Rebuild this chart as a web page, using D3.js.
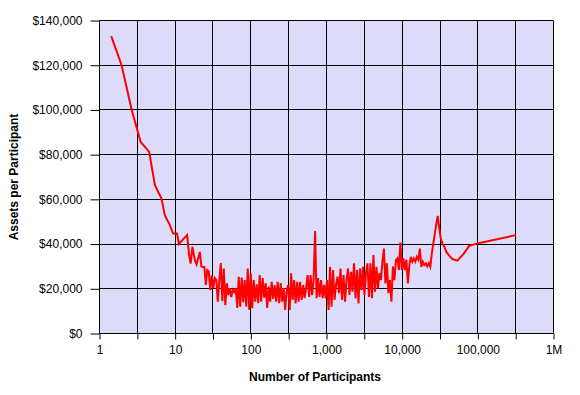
<html>
<head>
  <meta charset='utf-8' />
  <style>
    body { margin: 0; padding: 0; background: white; }
    text { font-family: 'Liberation Sans', Arial, sans-serif; }
  </style>
</head>

<body>
  <svg width='580' height='395'></svg>
</body>

<script src="https://d3js.org/d3.v7.min.js"></script>

<script>
///////////////////
/// Data
///////////////////

  // [participants, assets per participant]
  declineSeries = [
    [1.43, 133000], [1.96, 120000], [2.66, 100100], [3.5, 85700], [4.54, 81200],
    [5.4, 66300], [6.6, 60400], [7.3, 52900], [8.5, 48500], [9.4, 44700],
    [10.6, 44700], [11.2, 40000], [12.1, 41300], [14.4, 44000], [15.3, 35000],
    [16, 31300], [16.9, 38800], [18.2, 32800], [19.2, 30900], [21.2, 36500]
  ];

  troughSeries = [
    [22.2, 30000], [23.2, 29800], [24.3, 29800], [25.4, 21700], [26.6, 28400],
    [27.8, 27800], [29.1, 19400], [30.5, 26000], [31.9, 20300], [33.4, 24800],
    [35.0, 23900], [36.6, 14200], [38.3, 23900], [40.1, 31500], [42.0, 14500],
    [43.9, 29100], [46.0, 12700], [48.1, 22500], [50.3, 17200], [52.7, 20300],
    [55.1, 16300], [57.7, 19600], [60.4, 18600], [63.2, 20300], [66.2, 11400],
    [69.2, 25400], [72.5, 12000], [75.8, 25000], [79.4, 14000], [83.1, 23900],
    [87.0, 12000], [91.0, 29100], [95.3, 10500], [99.7, 26900], [104.3, 11300],
    [109.2, 23900], [114.3, 14200], [119.6, 22000], [125.2, 13600], [131.0, 26100],
    [137.1, 14200], [143.5, 24800], [150.2, 16000], [157.2, 22500], [164.5, 11400],
    [172.2, 21000], [180.2, 14200], [188.6, 23100], [197.4, 15500], [206.6, 21500],
    [216.2, 14200], [226.3, 23100], [236.8, 13600], [247.9, 22500], [259.4, 14200],
    [271.5, 20300], [284.2, 10500], [297.4, 19000], [311.3, 21700], [325.8, 10500],
    [341.0, 26900], [356.9, 15000], [373.5, 23900], [390.9, 13400], [409.1, 23100],
    [428.2, 14200], [448.1, 23100], [469.0, 15000], [490.9, 21700], [513.7, 15800],
    [537.7, 20500], [562.7, 26100], [589.0, 16400], [616.4, 26100], [645.1, 17200],
    [675.2, 23900], [706.6, 45800], [739.6, 15800], [774.0, 24800], [810.1, 16400],
    [847.8, 23900], [887.3, 15800], [928.7, 21700], [972, 15800], [1017, 23900],
    [1065, 10500], [1114, 29800], [1166, 12000], [1221, 28400], [1277, 15000],
    [1337, 22000], [1399, 25400], [1464, 18000], [1533, 29100], [1604, 15000],
    [1679, 26100], [1757, 14200], [1839, 24000], [1925, 29100], [2014, 17200],
    [2108, 27600], [2206, 18700], [2309, 31400], [2417, 15700], [2529, 28400],
    [2647, 13400], [2770, 29100], [2899, 19400], [3035, 29800], [3176, 17200],
    [3324, 27000], [3479, 31400], [3641, 16400], [3810, 31400], [3988, 15800],
    [4174, 35100], [4368, 18700], [4572, 29800], [4785, 20200], [5008, 27000],
    [5241, 23900], [5485, 32100], [5741, 38000], [6008, 22400], [6288, 31400],
    [6581, 18000], [6888, 23900], [7208, 14200], [7544, 30000], [7896, 23900],
    [8264, 32800], [8649, 33600], [9051, 28400], [9473, 40700], [9914, 28400]
  ];

  tailSeries = [
    [10376, 33600], [10860, 28400], [11365, 33000], [11895, 22400], [12449, 30600],
    [13029, 34300], [13636, 32100], [14271, 33600], [14936, 32100], [15632, 34300],
    [16360, 33000], [17122, 38000], [17920, 29800], [18755, 32100], [19629, 30600],
    [20543, 31400], [21500, 30000], [22502, 31400], [23550, 29800], [24648, 35800],
    [25796, 40300], [26998, 44700], [28256, 49000], [29572, 52600], [30950, 47000],
    [32392, 42500], [33901, 40300], [36100, 38800], [38400, 36500], [42100, 34700],
    [46100, 33300], [53700, 32600], [64400, 35500], [77100, 39200], [98200, 40300],
    [319000, 44000]
  ];

  xTickValues = [1, 3.162, 10, 31.62, 100, 316.2, 1000, 3162, 10000, 31623, 100000, 316228, 1000000];
  xTickLabels = {1: '1', 10: '10', 100: '100', 1000: '1,000', 10000: '10,000', 100000: '100,000', 1000000: '1M'};
  yTickValues = [0, 20000, 40000, 60000, 80000, 100000, 120000, 140000];

  allPoints = declineSeries.concat(troughSeries, tailSeries);

///////////////////
/// Scales
///////////////////

  svg = d3.select('svg');

  scaleX = d3.scaleLog()
    .domain([1, 1000000])
    .range([99.5, 553.5]);

  scaleY = d3.scaleLinear()
    .domain([0, 140000])
    .range([333.5, 20.5]);

///////////////////
/// Plot area + grid
///////////////////

  svg.append('rect')
    .attr('x', scaleX(1))
    .attr('y', scaleY(140000))
    .attr('width', scaleX(1000000) - scaleX(1))
    .attr('height', scaleY(0) - scaleY(140000))
    .style('fill', '#dcdcfa');

  grid = svg.append('g').attr('id', 'grid');

  grid.selectAll('.vgrid')
    .data(xTickValues)
    .enter().append('line')
    .attr('class', 'vgrid')
    .attr('x1', d => Math.round(scaleX(d) - 0.5) + 0.5)
    .attr('x2', d => Math.round(scaleX(d) - 0.5) + 0.5)
    .attr('y1', scaleY(140000))
    .attr('y2', scaleY(0))
    .style('stroke', 'black');

  grid.selectAll('.hgrid')
    .data(yTickValues)
    .enter().append('line')
    .attr('class', 'hgrid')
    .attr('x1', scaleX(1))
    .attr('x2', scaleX(1000000))
    .attr('y1', d => Math.round(scaleY(d) - 0.5) + 0.5)
    .attr('y2', d => Math.round(scaleY(d) - 0.5) + 0.5)
    .style('stroke', 'black');

///////////////////
/// Axes
///////////////////

  xAxis = d3.axisBottom(scaleX)
    .tickValues(xTickValues)
    .tickFormat(d => xTickLabels[d] || '')
    .tickSize(6)
    .tickSizeOuter(0)
    .tickPadding(6);

  gx = svg.append('g')
    .attr('transform', 'translate(0, 333.5)')
    .call(xAxis);

  yAxis = d3.axisLeft(scaleY)
    .tickValues(yTickValues)
    .tickFormat(d3.format('$,'))
    .tickSize(9)
    .tickSizeOuter(0)
    .tickPadding(8);

  gy = svg.append('g')
    .attr('transform', 'translate(99.5, 0)')
    .call(yAxis);

  [gx, gy].forEach(g => {
    g.select('.domain').remove();
    g.selectAll('line').style('stroke', 'black');
    g.selectAll('text')
      .style('font-size', '12px')
      .style('fill', 'black');
  });

///////////////////
/// Line
///////////////////

  line = d3.line()
    .x(d => scaleX(d[0]))
    .y(d => scaleY(d[1]));

  svg.append('path')
    .datum(allPoints)
    .attr('fill', 'none')
    .attr('stroke', '#ff0000')
    .attr('stroke-width', 2)
    .attr('stroke-linejoin', 'miter')
    .attr('d', line);

///////////////////
/// Titles
///////////////////

  svg.append('text')
    .attr('x', 315)
    .attr('y', 381)
    .attr('text-anchor', 'middle')
    .style('font-size', '12px')
    .style('font-weight', 'bold')
    .text('Number of Participants');

  svg.append('text')
    .attr('transform', 'translate(18, 177) rotate(-90)')
    .attr('text-anchor', 'middle')
    .style('font-size', '12px')
    .style('font-weight', 'bold')
    .text('Assets per Participant');

</script>
</html>
